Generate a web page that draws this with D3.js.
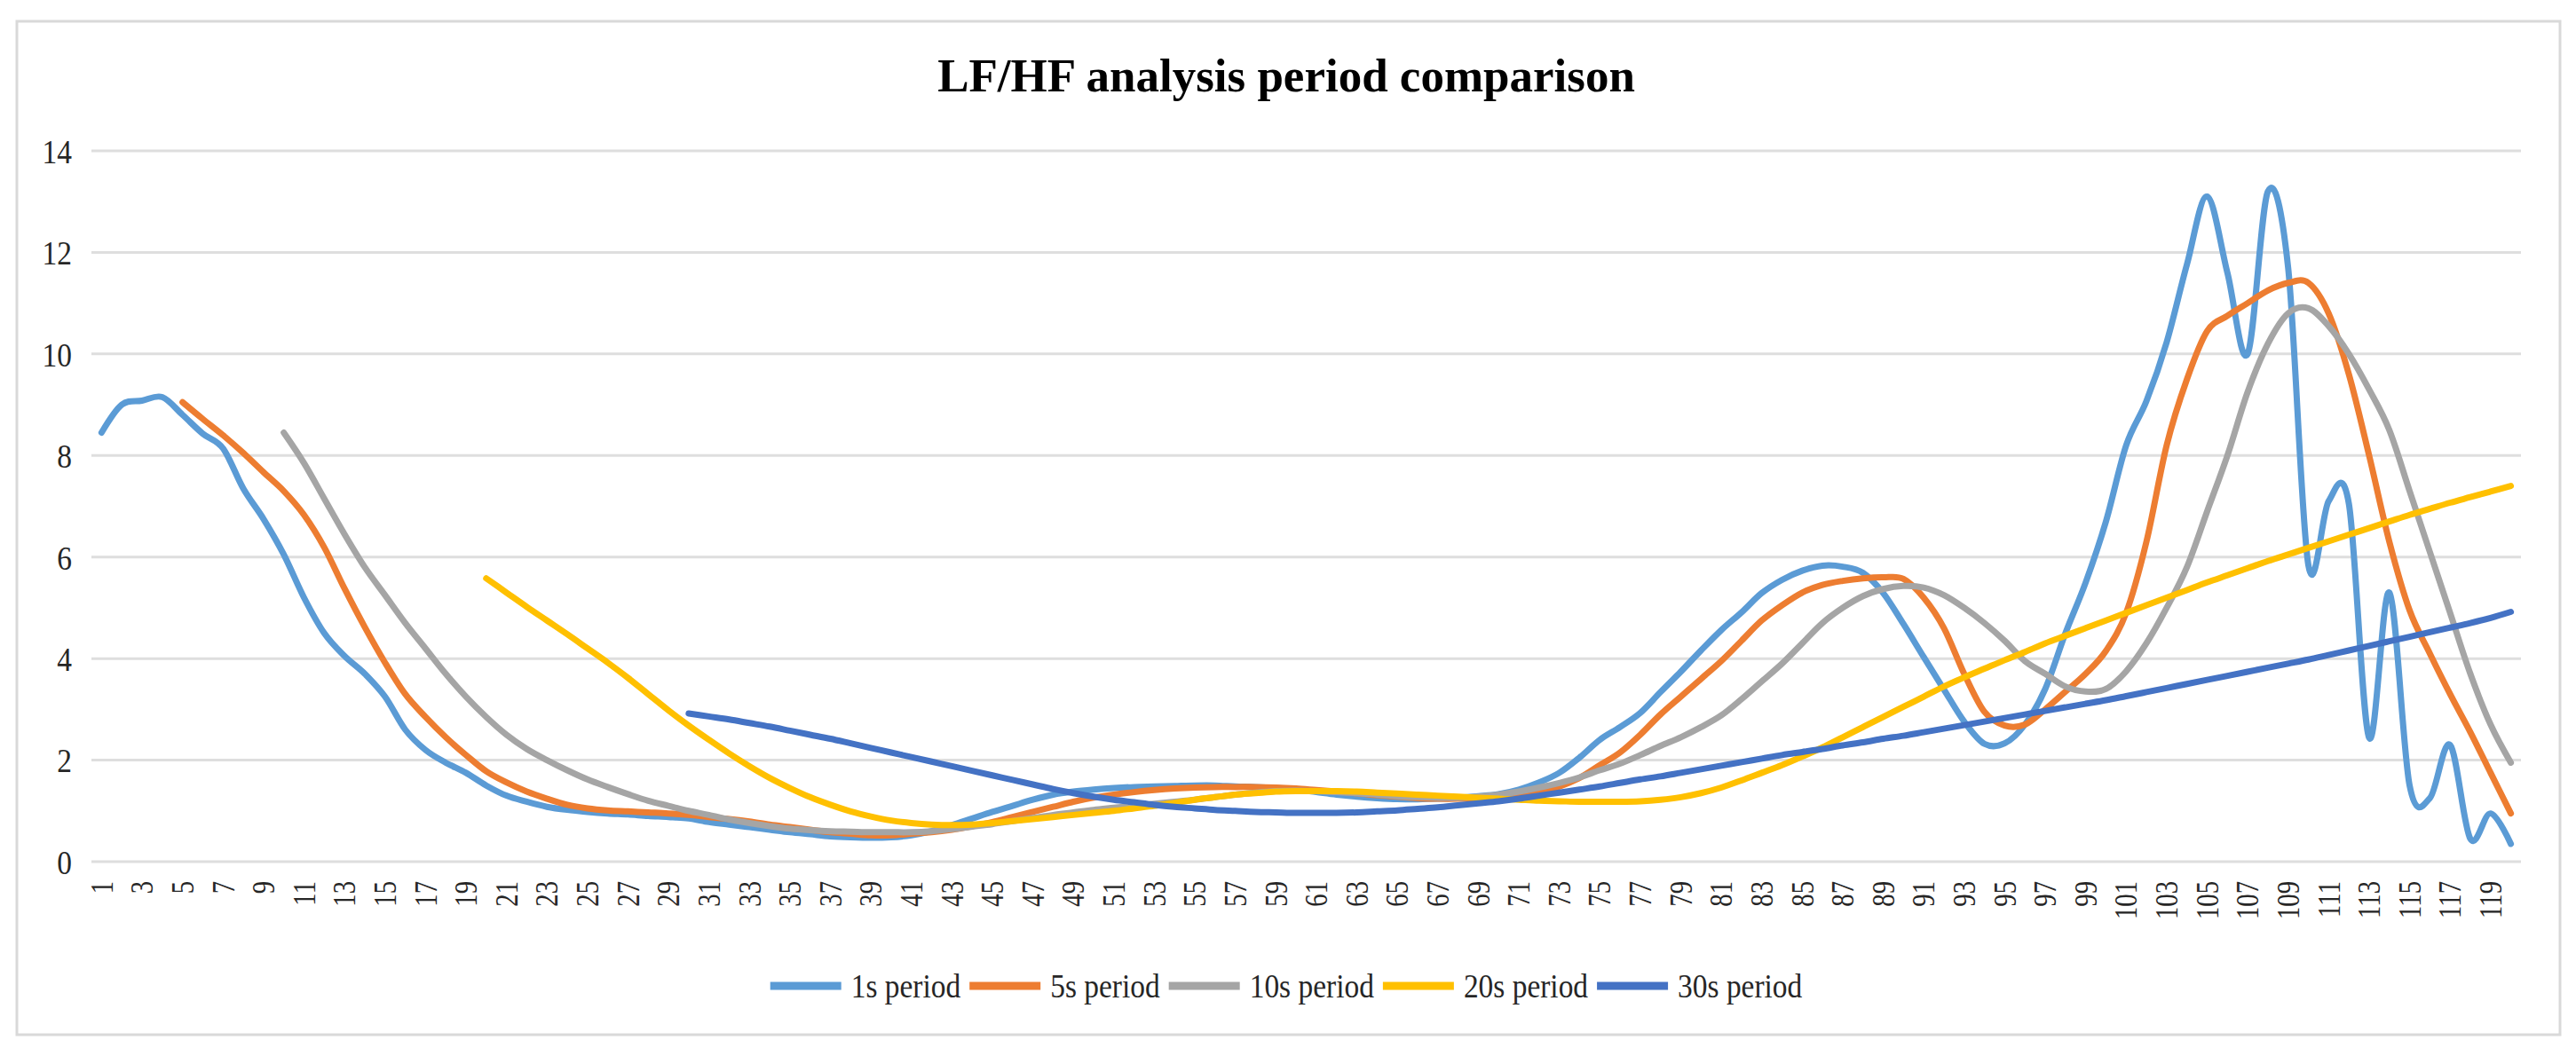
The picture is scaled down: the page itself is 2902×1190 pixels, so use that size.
<!DOCTYPE html>
<html>
<head>
<meta charset="utf-8">
<script src="https://cdn.jsdelivr.net/npm/d3@7"></script>
<style>
  body { margin: 0; background: #fff; }
  text { font-family: "Liberation Serif", "Times New Roman", serif; }
</style>
</head>
<body>
<div id="vis"></div>
<script>
const FRAME_WIDTH = 2902;
const FRAME_HEIGHT = 1190;
const PLOT = {left: 103, right: 2840, top: 170, bottom: 971};

const TITLE = "LF/HF analysis period comparison";
const CATEGORIES = [1,2,3,4,5,6,7,8,9,10,11,12,13,14,15,16,17,18,19,20,
  21,22,23,24,25,26,27,28,29,30,31,32,33,34,35,36,37,38,39,40,
  41,42,43,44,45,46,47,48,49,50,51,52,53,54,55,56,57,58,59,60,
  61,62,63,64,65,66,67,68,69,70,71,72,73,74,75,76,77,78,79,80,
  81,82,83,84,85,86,87,88,89,90,91,92,93,94,95,96,97,98,99,100,
  101,102,103,104,105,106,107,108,109,110,111,112,113,114,115,116,117,118,119,120];
const Y_TICKS = [0, 2, 4, 6, 8, 10, 12, 14];

const SERIES_NAMES = ["1s period", "5s period", "10s period", "20s period", "30s period"];
const SERIES_START = [1, 5, 10, 20, 30];
const COLORS = ["#5B9BD5", "#ED7D31", "#A5A5A5", "#FFC000", "#4472C4"];

// values from the first category of each series onwards
const P1 = [8.45,9.0,9.08,9.15,8.8,8.43,8.14,7.35,6.75,6.05,
  5.2,4.5,4.05,3.7,3.25,2.6,2.2,1.95,1.75,1.5,
  1.3,1.18,1.08,1.02,0.98,0.95,0.93,0.9,0.88,0.85,
  0.78,0.73,0.68,0.63,0.58,0.54,0.5,0.48,0.47,0.48,
  0.52,0.6,0.72,0.85,0.98,1.1,1.22,1.32,1.38,1.42,
  1.45,1.47,1.48,1.49,1.5,1.5,1.48,1.47,1.45,1.42,
  1.37,1.32,1.28,1.25,1.23,1.23,1.24,1.26,1.29,1.33,
  1.42,1.56,1.75,2.05,2.4,2.65,2.93,3.34,3.74,4.16,
  4.56,4.91,5.29,5.55,5.73,5.83,5.81,5.69,5.29,4.68,
  4.03,3.39,2.76,2.32,2.33,2.7,3.4,4.5,5.5,6.7,
  8.2,9.07,10.23,11.76,13.1,11.6,10.0,13.2,11.7,5.84,
  7.1,7.05,2.44,5.3,1.5,1.25,2.3,0.45,0.95,0.35];
const P5 = [9.05,8.72,8.4,8.05,7.67,7.3,6.83,6.19,5.38,4.62,
  3.92,3.3,2.85,2.45,2.1,1.78,1.56,1.38,1.24,1.12,
  1.05,1.01,0.99,0.97,0.95,0.92,0.88,0.84,0.79,0.73,
  0.68,0.63,0.58,0.55,0.52,0.52,0.55,0.58,0.63,0.7,
  0.78,0.88,0.98,1.08,1.18,1.26,1.32,1.37,1.41,1.44,
  1.46,1.47,1.47,1.47,1.46,1.44,1.41,1.38,1.35,1.31,
  1.28,1.25,1.24,1.24,1.25,1.28,1.32,1.38,1.48,1.65,
  1.9,2.15,2.5,2.9,3.25,3.6,3.95,4.35,4.75,5.05,
  5.3,5.45,5.53,5.58,5.6,5.57,5.2,4.6,3.7,2.95,
  2.68,2.7,3.0,3.35,3.7,4.15,4.9,6.3,8.2,9.5,
  10.45,10.75,11.0,11.25,11.4,11.4,10.8,9.6,8.0,6.3,
  4.95,4.1,3.3,2.55,1.75,0.95];
const P10 = [8.45,7.85,7.15,6.45,5.8,5.25,4.7,4.2,3.7,3.25,
  2.85,2.5,2.22,2.0,1.8,1.62,1.47,1.33,1.2,1.1,
  1.0,0.92,0.83,0.76,0.7,0.65,0.62,0.6,0.59,0.58,
  0.58,0.58,0.6,0.64,0.69,0.74,0.8,0.86,0.92,0.97,
  1.02,1.06,1.1,1.14,1.18,1.22,1.27,1.32,1.36,1.39,
  1.4,1.39,1.37,1.35,1.32,1.29,1.27,1.26,1.26,1.28,
  1.32,1.38,1.46,1.55,1.66,1.8,1.93,2.1,2.28,2.45,
  2.65,2.88,3.2,3.55,3.9,4.3,4.7,5.0,5.23,5.37,
  5.43,5.4,5.25,5.0,4.7,4.35,3.95,3.7,3.45,3.35,
  3.4,3.75,4.3,5.0,5.8,6.9,8.0,9.25,10.2,10.8,
  10.9,10.55,10.0,9.3,8.5,7.3,6.1,4.9,3.7,2.7,
  1.95];
const P20 = [5.58,5.3,5.02,4.75,4.48,4.2,3.92,3.62,3.3,2.98,
  2.68,2.4,2.13,1.88,1.65,1.45,1.27,1.12,0.99,0.89,
  0.81,0.76,0.73,0.72,0.73,0.76,0.8,0.84,0.88,0.92,
  0.96,1.0,1.05,1.1,1.16,1.22,1.27,1.32,1.35,1.38,
  1.39,1.39,1.39,1.38,1.36,1.34,1.32,1.3,1.28,1.26,
  1.24,1.22,1.2,1.19,1.18,1.18,1.18,1.19,1.22,1.27,
  1.35,1.46,1.6,1.75,1.9,2.07,2.25,2.45,2.65,2.85,
  3.05,3.25,3.45,3.63,3.8,3.97,4.13,4.3,4.45,4.6,
  4.75,4.9,5.05,5.2,5.35,5.5,5.64,5.78,5.92,6.05,
  6.18,6.31,6.44,6.57,6.7,6.83,6.95,7.07,7.18,7.29,
  7.4];
const P30 = [2.92,2.86,2.8,2.73,2.66,2.58,2.5,2.42,2.33,2.24,
  2.15,2.06,1.97,1.88,1.79,1.7,1.61,1.52,1.43,1.35,
  1.28,1.22,1.17,1.12,1.08,1.05,1.02,1.0,0.98,0.97,
  0.96,0.96,0.96,0.97,0.99,1.01,1.04,1.07,1.11,1.15,
  1.19,1.24,1.3,1.36,1.42,1.48,1.55,1.62,1.68,1.75,
  1.82,1.89,1.96,2.03,2.1,2.16,2.22,2.29,2.35,2.42,
  2.48,2.55,2.62,2.69,2.76,2.83,2.9,2.97,3.04,3.11,
  3.18,3.26,3.34,3.42,3.5,3.58,3.66,3.74,3.82,3.9,
  3.98,4.07,4.16,4.25,4.34,4.43,4.52,4.61,4.7,4.8,
  4.92];
const SERIES_VALUES = [P1, P5, P10, P20, P30];

const SVG = d3.select("#vis")
  .append("svg")
    .attr("width", FRAME_WIDTH)
    .attr("height", FRAME_HEIGHT);

// chart area border
SVG.append("rect")
  .attr("x", 19).attr("y", 24)
  .attr("width", 2865).attr("height", 1142)
  .attr("fill", "#fff")
  .attr("stroke", "#D9D9D9")
  .attr("stroke-width", 3);

const X_SCALE = d3.scaleBand()
  .domain(CATEGORIES)
  .range([PLOT.left, PLOT.right]);
const xc = (c) => X_SCALE(c) + X_SCALE.bandwidth() / 2;

const Y_SCALE = d3.scaleLinear()
  .domain([0, 14])
  .range([PLOT.bottom, PLOT.top]);

// gridlines
SVG.append("g")
  .selectAll("line")
  .data(Y_TICKS)
  .enter()
  .append("line")
    .attr("x1", PLOT.left)
    .attr("x2", PLOT.right)
    .attr("y1", (d) => Y_SCALE(d))
    .attr("y2", (d) => Y_SCALE(d))
    .attr("stroke", "#DEDEDE")
    .attr("stroke-width", 3);

// y axis labels
const yAxis = SVG.append("g")
  .attr("transform", "translate(81,0)")
  .call(d3.axisLeft(Y_SCALE).tickValues(Y_TICKS).tickSize(0).tickPadding(0));
yAxis.select(".domain").remove();
yAxis.selectAll("text")
  .attr("x", null)
  .attr("dy", "0.35em")
  .attr("transform", "scale(0.88,1)")
  .attr("font-family", "Liberation Serif")
  .attr("font-size", 38)
  .attr("fill", "#262626");

// x axis labels, every other category, rotated
const xAxis = SVG.append("g")
  .attr("transform", "translate(0," + PLOT.bottom + ")")
  .call(d3.axisBottom(X_SCALE)
    .tickValues(CATEGORIES.filter((c) => c % 2 === 1))
    .tickSize(0));
xAxis.select(".domain").remove();
xAxis.selectAll("text")
  .attr("y", 0)
  .attr("dy", "0.35em")
  .attr("text-anchor", "end")
  .attr("transform", "translate(0,22) rotate(-90) scale(0.82,1)")
  .attr("font-family", "Liberation Serif")
  .attr("font-size", 35)
  .attr("fill", "#262626");

// series lines
const line = d3.line()
  .x((d) => xc(d.c))
  .y((d) => Y_SCALE(d.v))
  .curve(d3.curveCardinal.tension(0));

SERIES_VALUES.forEach((vals, k) => {
  const pts = vals.map((v, j) => ({c: CATEGORIES[SERIES_START[k] - 1 + j], v: v}));
  SVG.append("path")
    .datum(pts)
    .attr("d", line)
    .attr("fill", "none")
    .attr("stroke", COLORS[k])
    .attr("stroke-width", 7)
    .attr("stroke-linecap", "round")
    .attr("stroke-linejoin", "round");
});

// title
SVG.append("text")
  .attr("x", 1449)
  .attr("y", 103)
  .attr("text-anchor", "middle")
  .attr("font-family", "Liberation Serif")
  .attr("font-weight", "bold")
  .attr("font-size", 53)
  .attr("fill", "#000")
  .text(TITLE);

// legend
const LEG_Y = 1111;
const legend = SVG.append("g");
const items = legend.selectAll("g")
  .data(SERIES_NAMES)
  .enter()
  .append("g");
items.append("line")
  .attr("x1", 0).attr("x2", 80)
  .attr("y1", 0).attr("y2", 0)
  .attr("stroke", (d, i) => COLORS[i])
  .attr("stroke-width", 9);
items.append("text")
  .attr("transform", "translate(91,0) scale(0.88,1)")
  .attr("dy", "0.35em")
  .attr("font-size", 38)
  .attr("fill", "#262626")
  .text((d) => d);

let widths = [];
items.select("text").each(function() { widths.push(91 + this.getComputedTextLength() * 0.88); });
const total = d3.sum(widths) + 10 * (widths.length - 1);
let cursor = 1449 - total / 2;
items.attr("transform", (d, i) => {
  const t = "translate(" + cursor + "," + LEG_Y + ")";
  cursor += widths[i] + 10;
  return t;
});
</script>
</body>
</html>
